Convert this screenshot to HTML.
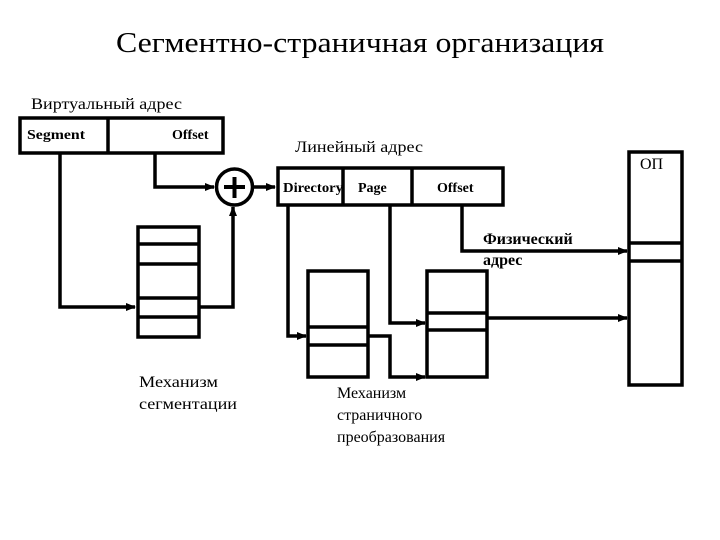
<!DOCTYPE html>
<html><head><meta charset="utf-8"><style>html,body{margin:0;padding:0;background:#fff}svg{display:block}</style></head><body>
<svg width="720" height="540" viewBox="0 0 720 540" xmlns="http://www.w3.org/2000/svg" font-family="'Liberation Serif', 'Noto Serif CJK SC', serif">
<defs><marker id="a" markerWidth="10" markerHeight="10" refX="9" refY="5" orient="auto" markerUnits="userSpaceOnUse"><path d="M0,1 L10,5 L0,9 z" fill="#000"/></marker></defs>
<text x="116" y="52" font-size="28" textLength="488" lengthAdjust="spacingAndGlyphs">Сегментно-страничная организация</text>
<text x="31" y="109" font-size="16" textLength="151" lengthAdjust="spacingAndGlyphs">Виртуальный адрес</text>
<g fill="none" stroke="#000" stroke-width="3.5">
<rect x="20" y="118" width="203" height="35"/>
<line x1="108" y1="118" x2="108" y2="153"/>
<polyline points="60,153 60,307 135,307" marker-end="url(#a)"/>
<polyline points="155,153 155,187 214,187" marker-end="url(#a)"/>
<circle cx="234.5" cy="187" r="18"/>
<line x1="253" y1="187" x2="275" y2="187" marker-end="url(#a)"/>
<rect x="138" y="227" width="61" height="110"/>
<line x1="138" y1="244" x2="199" y2="244"/>
<line x1="138" y1="264" x2="199" y2="264"/>
<line x1="138" y1="298" x2="199" y2="298"/>
<line x1="138" y1="317" x2="199" y2="317"/>
<polyline points="199,307 233,307 233,207" marker-end="url(#a)"/>
<rect x="278" y="168" width="225" height="37"/>
<line x1="343" y1="168" x2="343" y2="205"/>
<line x1="412" y1="168" x2="412" y2="205"/>
<rect x="629" y="152" width="53" height="233"/>
<line x1="629" y1="243" x2="682" y2="243"/>
<line x1="629" y1="261" x2="682" y2="261"/>
<polyline points="462,205 462,251 627,251" marker-end="url(#a)"/>
<rect x="308" y="271" width="60" height="106"/>
<line x1="308" y1="327" x2="368" y2="327"/>
<line x1="308" y1="345" x2="368" y2="345"/>
<rect x="427" y="271" width="60" height="106"/>
<line x1="427" y1="313" x2="487" y2="313"/>
<line x1="427" y1="330" x2="487" y2="330"/>
<polyline points="288,205 288,336 306,336" marker-end="url(#a)"/>
<polyline points="390,205 390,323 425,323" marker-end="url(#a)"/>
<polyline points="368,336 390,336 390,377 425,377" marker-end="url(#a)"/>
<line x1="487" y1="318" x2="627" y2="318" marker-end="url(#a)"/>
</g>
<g stroke="#000" stroke-width="4"><line x1="224" y1="187" x2="245" y2="187"/><line x1="234.5" y1="177" x2="234.5" y2="198"/></g>
<g font-size="14" font-weight="bold">
<text x="27" y="139" textLength="58" lengthAdjust="spacingAndGlyphs">Segment</text>
<text x="172" y="139">Offset</text>
<text x="283" y="192" textLength="60" lengthAdjust="spacingAndGlyphs">Directory</text>
<text x="358" y="192">Page</text>
<text x="437" y="192">Offset</text>
</g>
<g font-size="16">
<text x="295" y="152" textLength="128" lengthAdjust="spacingAndGlyphs">Линейный адрес</text>
<text x="640" y="169">ОП</text>
<text x="483" y="244" font-weight="bold">Физический</text>
<text x="483" y="265" font-weight="bold">адрес</text>
<text x="139" y="387" textLength="79" lengthAdjust="spacingAndGlyphs">Механизм</text>
<text x="139" y="409" textLength="98" lengthAdjust="spacingAndGlyphs">сегментации</text>
<text x="337" y="398">Механизм</text>
<text x="337" y="420">страничного</text>
<text x="337" y="442">преобразования</text>
</g>
</svg>
</body></html>
